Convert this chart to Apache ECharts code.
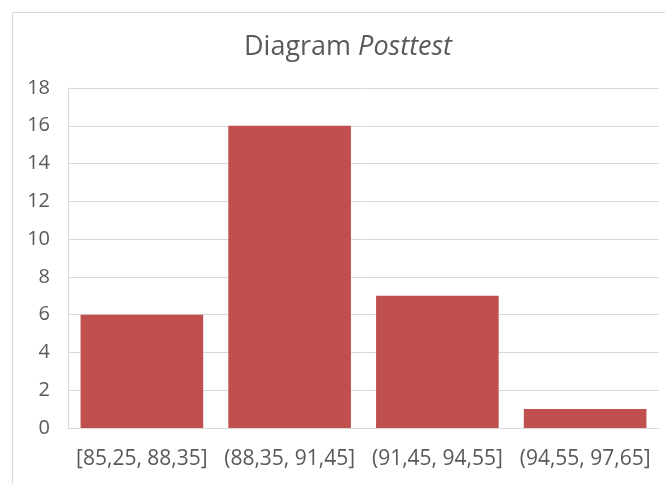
<!DOCTYPE html>
<html>
<head>
<meta charset="utf-8">
<script src="https://cdn.jsdelivr.net/npm/echarts@6/dist/echarts.min.js"></script>
<style>
  html, body { margin: 0; padding: 0; background: #fff; }
  #chart { width: 665px; height: 484px; }
</style>
</head>
<body>
<div id="chart"></div>
<script>
// kelas interval nilai posttest
var categories = ["[85,25, 88,35]", "(88,35, 91,45]", "(91,45, 94,55]", "(94,55, 97,65]"];
var frekuensi = [6, 16, 7, 1];
var yMin = 0, yMax = 18, yStep = 2;

var font = "Open Sans";
var textColor = "#595959";
var gridColor = "#d9d9d9";

var myChart = echarts.init(document.getElementById("chart"));
myChart.setOption({
  backgroundColor: "#fff",
  animation: false,
  textStyle: { fontFamily: font },
  title: {
    text: "Diagram {i|Posttest}",
    left: 343,
    top: 29,
    textAlign: "center",
    textStyle: {
      fontFamily: font,
      fontSize: 27,
      fontWeight: "normal",
      color: textColor,
      rich: {
        i: { fontFamily: font, fontSize: 27, fontStyle: "italic", color: textColor }
      }
    }
  },
  // garis tepi area grafik
  graphic: [
    {
      type: "rect",
      shape: { x: 12.5, y: 12.5, width: 700, height: 500 },
      style: { fill: "none", stroke: gridColor, lineWidth: 1 },
      silent: true
    }
  ],
  grid: { left: 68, right: 6, top: 88, bottom: 56, containLabel: false },
  xAxis: {
    type: "category",
    data: categories,
    axisLine: { lineStyle: { color: gridColor, width: 1 } },
    axisTick: { show: false },
    axisLabel: { color: textColor, fontSize: 21, fontFamily: font, margin: 21, interval: 0 }
  },
  yAxis: {
    type: "value",
    min: yMin,
    max: yMax,
    interval: yStep,
    axisLine: { show: true, lineStyle: { color: gridColor, width: 1 } },
    axisTick: { show: false },
    splitLine: { lineStyle: { color: gridColor, width: 1 } },
    axisLabel: { color: textColor, fontSize: 20, fontFamily: font, margin: 18 }
  },
  series: [
    {
      name: "Frekuensi",
      type: "bar",
      data: frekuensi,
      barCategoryGap: "17%",
      itemStyle: { color: "#c0504d" }
    }
  ]
});
</script>
</body>
</html>
